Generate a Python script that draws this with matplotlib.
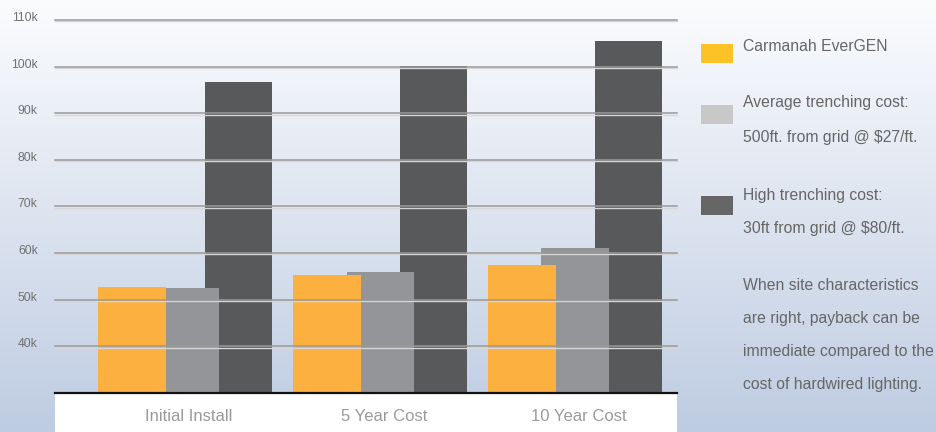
import numpy as np
import matplotlib
matplotlib.use("Agg")
import matplotlib.pyplot as plt
from matplotlib.patches import Rectangle
from matplotlib import transforms

# data (thousands of dollars)
categories = ["Initial Install", "5 Year Cost", "10 Year Cost"]
evergen = [52.7, 55.3, 57.5]
avg_trench = [52.5, 56.0, 61.1]
high_trench = [96.8, 100.2, 105.4]
yticks = [40, 50, 60, 70, 80, 90, 100, 110]
ytick_labels = ["40k", "50k", "60k", "70k", "80k", "90k", "100k", "110k"]

legend_lines = [
    ["Carmanah EverGEN"],
    ["Average trenching cost:", "500ft. from grid @ $27/ft."],
    ["High trenching cost:", "30ft from grid @ $80/ft."],
]
note_lines = [
    "When site characteristics",
    "are right, payback can be",
    "immediate compared to the",
    "cost of hardwired lighting.",
]

plt.rcParams['font.family'] = ['Liberation Sans', 'DejaVu Sans']

W, H = 936, 432
fig = plt.figure(figsize=(W / 100, H / 100), dpi=100)

# gradient background
bg = fig.add_axes([0, 0, 1, 1], zorder=-2)
bg.set_axis_off()
top = np.array([0.985, 0.988, 0.995])
bot = np.array([0.745, 0.800, 0.885])
t = np.linspace(0, 1, 256)[:, None, None]
grad = top * (1 - t) + bot * t
grad = np.repeat(grad, 2, axis=1)
bg.imshow(grad, aspect='auto', extent=[0, 1, 0, 1])

# white strip under the plot
fig.add_artist(Rectangle((55 / W, 0), 622 / W, 39 / H, transform=fig.transFigure,
                         facecolor='white', edgecolor='none', zorder=-1))

ax = fig.add_axes([55 / W, 39 / H, 622 / W, 373 / H], zorder=0)
ax.set_facecolor('none')

x = np.arange(len(categories))
step = 0.272
width = 0.344
ax.bar(x + step, high_trench, width, color='#58595b', zorder=1)
ax.bar(x, avg_trench, width, color='#939598', zorder=2)
ax.bar(x - step, evergen, width, color='#fbb040', zorder=3)

ax.set_ylim(30, 110)
ax.set_xlim(-0.667, 2.523)

# gridlines drawn over bars, with a light highlight underneath
shift = transforms.ScaledTranslation(0, -1.3 / 100, fig.dpi_scale_trans)
ytrans = ax.get_yaxis_transform()
for v in yticks:
    ax.plot([0, 1], [v, v], color='#d6d6d6', lw=1.0, zorder=5,
            transform=ytrans + shift, clip_on=False)
    ax.plot([0, 1], [v, v], color='#9a9a9a', lw=1.1, zorder=6,
            transform=ytrans, clip_on=False)

for s in ['top', 'right', 'left']:
    ax.spines[s].set_visible(False)
ax.spines['bottom'].set_color('#111111')
ax.spines['bottom'].set_linewidth(1.6)
ax.spines['bottom'].set_zorder(7)

ax.set_yticks(yticks)
ax.set_yticklabels(ytick_labels, fontsize=8.7, color='#707070')
ax.tick_params(axis='y', length=0, pad=12.5)
up = transforms.ScaledTranslation(0, 3.5 / 100, fig.dpi_scale_trans)
for lbl in ax.get_yticklabels():
    lbl.set_transform(lbl.get_transform() + up)

ax.set_xticks(x)
ax.set_xticklabels(categories, fontsize=12, color='#9a9a9a')
ax.tick_params(axis='x', length=0, pad=11.5)
right = transforms.ScaledTranslation(4 / 100, 0, fig.dpi_scale_trans)
for lbl in ax.get_xticklabels():
    lbl.set_transform(lbl.get_transform() + right)

# legend
legend_colors = ['#fdc326', '#c8c8c8', '#666666']
patch_tops = [44, 105, 196]
text_baselines = [[51], [107, 142], [200, 233]]
for col, pt, lines, bls in zip(legend_colors, patch_tops, legend_lines, text_baselines):
    fig.add_artist(Rectangle((701 / W, 1 - (pt + 19) / H), 32 / W, 19 / H,
                             transform=fig.transFigure, facecolor=col, edgecolor='none'))
    for line, b in zip(lines, bls):
        fig.text(743 / W, 1 - b / H, line, fontsize=11.3, color='#666666', va='baseline')

for i, line in enumerate(note_lines):
    fig.text(743 / W, 1 - (290 + 33 * i) / H, line, fontsize=11.3, color='#666666',
             va='baseline')

fig.savefig('out.png', dpi=100)
